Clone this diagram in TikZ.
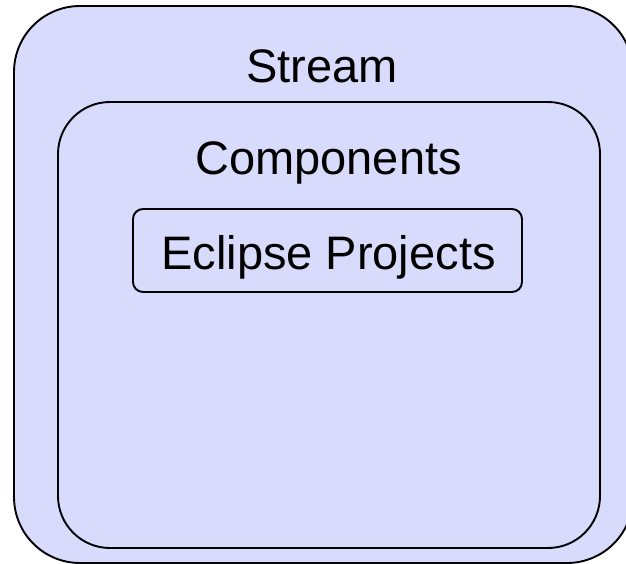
\documentclass[tikz,border=0pt]{standalone}
\usepackage{fontspec}
\setmainfont{Liberation Sans}
\definecolor{boxfill}{RGB}{217,219,252}
\begin{document}
\begin{tikzpicture}[x=1pt,y=-1pt,
  box/.style={draw=black, line width=1.9pt, fill=boxfill, rectangle, inner sep=0pt, outer sep=0pt},
  lbl/.style={anchor=base, inner sep=0pt, font=\fontsize{47}{56}\selectfont}]
\useasboundingbox (0,0) rectangle (626,564);
\clip (0,0) rectangle (626,564);
\fill[white] (0,0) rectangle (626,564);
\node[box, rounded corners=66pt, minimum width=619pt, minimum height=557pt] (stream) at (323.5,284.5) {};
\node[box, rounded corners=52pt, minimum width=542pt, minimum height=446pt] (components) at (329,325) {};
\node[box, rounded corners=10pt, minimum width=389pt, minimum height=83pt] (eclipse) at (327.5,250.5) {};
\node[lbl] (streamlbl) at (322,83) {Stream};
\node[lbl] (complbl) at (328.5,175) {Components};
\node[lbl] (eclipselbl) at (328.5,269) {Eclipse Projects};
\end{tikzpicture}
\end{document}
